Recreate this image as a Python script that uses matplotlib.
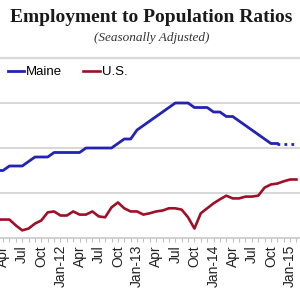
import matplotlib
matplotlib.use("Agg")
import matplotlib.pyplot as plt
from matplotlib.ticker import FixedLocator, MultipleLocator

# Month index: 0 = Jan-2011
maine_months = list(range(2, 47))
maine = [61.5, 61.5, 61.6, 61.6, 61.6, 61.7, 61.8, 61.8, 61.8, 61.9,
         61.9, 61.9, 61.9, 61.9, 62.0, 62.0, 62.0, 62.0, 62.0, 62.1,
         62.2, 62.2, 62.4, 62.5, 62.6, 62.7, 62.8, 62.9, 63.0, 63.0,
         63.0, 62.9, 62.9, 62.9, 62.8, 62.8, 62.7, 62.7, 62.6, 62.5,
         62.4, 62.3, 62.2, 62.1, 62.1]
maine_proj_months = [46, 47, 48, 49]
maine_proj = [62.1, 62.1, 62.1, 62.1]

us_months = list(range(2, 50))
us = [58.41, 58.41, 58.41, 58.28, 58.17, 58.21, 58.32, 58.39, 58.57, 58.59,
      58.50, 58.50, 58.59, 58.52, 58.52, 58.59, 58.48, 58.46, 58.68, 58.79,
      58.66, 58.59, 58.59, 58.52, 58.55, 58.59, 58.61, 58.66, 58.66, 58.63,
      58.46, 58.21, 58.55, 58.66, 58.77, 58.86, 58.94, 58.88, 58.88, 58.92,
      58.92, 58.94, 59.12, 59.19, 59.21, 59.26, 59.30, 59.30]

tick_months = list(range(3, 49, 3))
tick_labels = ["Apr", "Jul", "Oct", "Jan-12", "Apr", "Jul", "Oct", "Jan-13",
               "Apr", "Jul", "Oct", "Jan-14", "Apr", "Jul", "Oct", "Jan-15"]

maine_color = "#2323b4"
us_color = "#9e1028"

fig = plt.figure(figsize=(3, 3), dpi=100)
ax = fig.add_axes([0.0, 1 - 238 / 300, 1.0, 180 / 300])
ax2 = ax.twinx()

ax.set_xlim(2.52, 49.55)
ax.set_ylim(60, 64)
ax2.set_ylim(58, 62)

ax.yaxis.set_major_locator(FixedLocator([61, 62, 63]))
ax.grid(axis="y", color="#d4d4d4", lw=1.3)
ax.set_axisbelow(True)
ax.tick_params(axis="y", left=False, labelleft=False)
ax2.tick_params(axis="y", right=False, labelright=False)

for a in (ax, ax2):
    for s in ("left", "right", "top", "bottom"):
        a.spines[s].set_visible(False)
ax.spines["bottom"].set_visible(True)
ax.spines["bottom"].set_color("#c8c8c8")
ax.spines["bottom"].set_linewidth(1.2)
ax.spines["top"].set_visible(True)
ax.spines["top"].set_color("#d8d8d8")
ax.spines["top"].set_linewidth(1.6)

ax.xaxis.set_major_locator(FixedLocator(tick_months))
ax.set_xticklabels(tick_labels, rotation=90, fontsize=10,
                   family="Liberation Sans", color="#222222")
ax.xaxis.set_minor_locator(MultipleLocator(1))
ax.tick_params(axis="x", which="both", length=3, color="#c0c0c0", width=0.8, pad=2)

l1, = ax.plot(maine_months, maine, color=maine_color, lw=2.0, label="Maine")
ax.plot(maine_proj_months, maine_proj, color=maine_color, lw=2.0, ls=(0, (1, 1.5)))
l2, = ax2.plot(us_months, us, color=us_color, lw=1.9, label="U.S.")

leg = ax.legend([l1, l2], ["Maine", "U.S."], loc="center left",
                bbox_to_anchor=(0.025, 0.922), ncol=2, frameon=False,
                handlelength=1.25, handletextpad=0.15, columnspacing=1.6,
                prop={"family": "Liberation Sans", "size": 9.5},
                borderaxespad=0, borderpad=0)

fig.text(0.505, 1 - 18 / 300, "Employment to Population Ratios", ha="center",
         va="center", fontsize=14, fontweight="bold", family="Liberation Serif",
         color="#1a1a1a")
fig.text(0.507, 1 - 38 / 300, "(Seasonally Adjusted)", ha="center", va="center",
         fontsize=9.5, style="italic", family="Liberation Serif", color="#333333")

fig.savefig("out.png", dpi=100)
